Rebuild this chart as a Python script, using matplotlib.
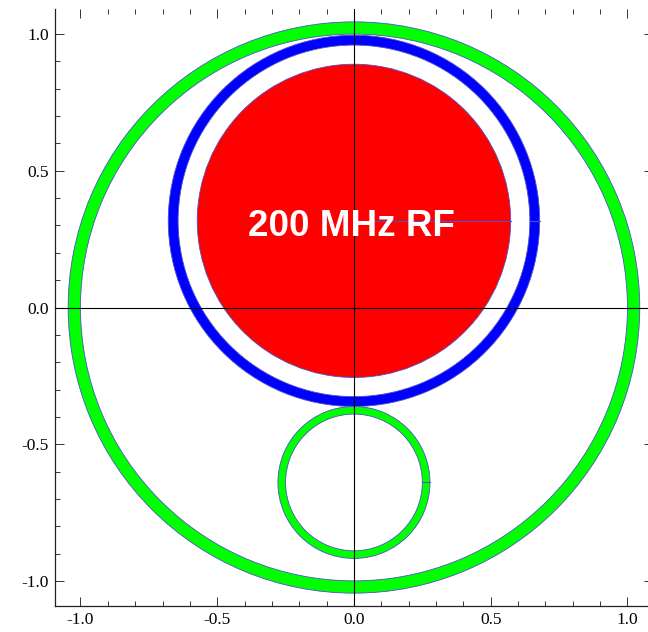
import matplotlib
matplotlib.use("Agg")
import matplotlib.pyplot as plt
from matplotlib.patches import Circle, Annulus
from matplotlib.ticker import MultipleLocator

# Cross-section geometry: (centre_y, inner radius, outer radius, colour)
ring_names = ["outer shell", "cavity wall", "beam pipe"]
ring_cy = [0.0, 0.317, -0.64]
ring_r_in = [1.0, 0.643, 0.25]
ring_r_out = [1.045, 0.679, 0.278]
ring_colors = ["#00ff00", "#0000ff", "#00ff00"]

disk_cy = 0.317
disk_r = 0.573
disk_color = "#ff0000"
disk_label = "200 MHz RF"

edge_color = "#5050c8"

xlim = (-1.092, 1.092)
ylim = (-1.092, 1.092)
major_step = 0.5
minor_step = 0.1

W, H = 648, 632
fig = plt.figure(figsize=(W / 100, H / 100), dpi=100)
ax = fig.add_axes([55.3 / W, 26.0 / H, 597.3 / W, 597.0 / H])
ax.set_xlim(*xlim)
ax.set_ylim(*ylim)

# filled RF disk
ax.add_patch(Circle((0, disk_cy), disk_r, facecolor=disk_color,
                    edgecolor=edge_color, linewidth=0.6, zorder=2))
ax.plot([0, disk_r], [disk_cy, disk_cy], color=edge_color, lw=0.8, zorder=2.1)

# rings
for cy, rin, rout, col in zip(ring_cy, ring_r_in, ring_r_out, ring_colors):
    ax.add_patch(Annulus((0, cy), rout, rout - rin, facecolor=col,
                         edgecolor=edge_color, linewidth=0.6, zorder=2))
    ax.plot([rin, rout], [cy, cy], color=edge_color, lw=0.8, zorder=2.1)

# coordinate axes through the origin
ax.axhline(0, color="black", lw=0.8, zorder=3)
ax.axvline(0, color="black", lw=0.8, zorder=3)

ax.text(-0.01, 0.297, disk_label, color="white", fontsize=26.5,
        fontweight="bold", family="Liberation Sans",
        ha="center", va="center", zorder=4)

# frame and ticks
for side in ["left", "bottom", "right"]:
    ax.spines[side].set_linewidth(0.9)
    ax.spines[side].set_color("#222222")
ax.spines["top"].set_visible(False)

ax.xaxis.set_major_locator(MultipleLocator(major_step))
ax.yaxis.set_major_locator(MultipleLocator(major_step))
ax.xaxis.set_minor_locator(MultipleLocator(minor_step))
ax.yaxis.set_minor_locator(MultipleLocator(minor_step))
ax.xaxis.set_major_formatter(matplotlib.ticker.FormatStrFormatter("%.1f"))
ax.yaxis.set_major_formatter(matplotlib.ticker.FormatStrFormatter("%.1f"))

ax.tick_params(which="both", direction="in", top=True, right=True,
               color="#333333", width=0.7)
ax.tick_params(which="major", length=6.5, pad=4.5, labelsize=12.5)
ax.tick_params(which="minor", length=3.6)
for lbl in ax.get_xticklabels() + ax.get_yticklabels():
    lbl.set_family("Liberation Serif")

fig.savefig("out.png", dpi=100)
